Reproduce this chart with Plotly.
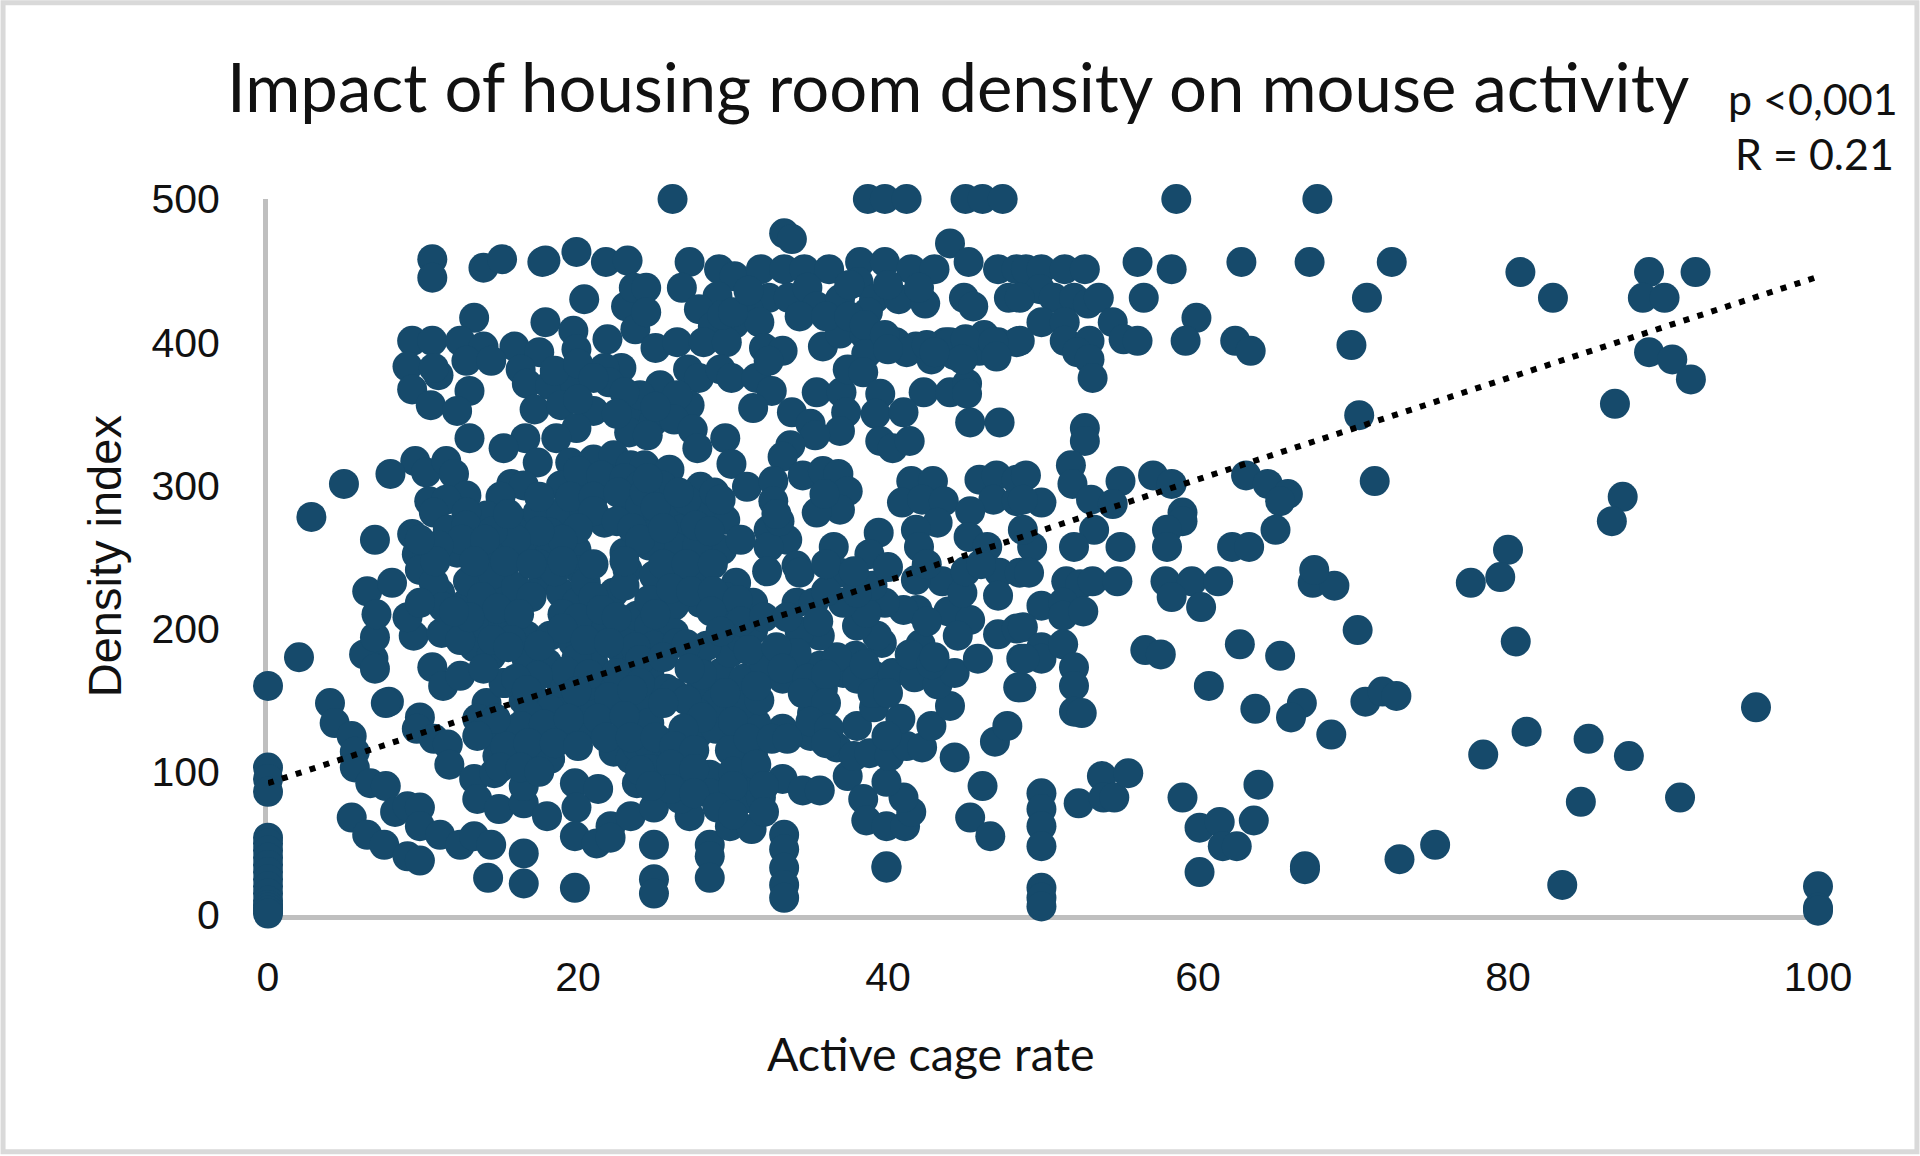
import plotly.graph_objects as go

upper_left = [(10.6,458),(10.6,445),(13.9,452),(15.1,458),(17.9,457),(17.7,456),(19.9,463),(21.8,456),(23.2,457),
(20.4,430),(13.3,417),(17.9,414),(23.1,425),(23.6,438),(23.7,409),(19.7,408),(9.3,401),(10.6,401),(12.4,401),(13.9,397),(15.9,397),(17.5,393),
(9,383),(11,377),(10.7,382),(12.8,387),(14.4,387),(9.3,367),(13,366),(10.5,356),(12.2,352),(13,333),
(19.9,395),(21.9,402),(22.8,382),(21.7,382),(22,372),(16.3,381),(16.7,371),(18.2,370),(19.8,371),(17.2,353),(18.9,356),(21,352),
(19.9,340),(18.6,333),(16.6,333),(15.2,326),(17.4,316),(23.2,351),(23.3,337),
(9.5,317),(10.2,309),(11.5,317),(12,308),(7.9,308),(4.9,301),(2.8,278),(6.9,262),
(19.5,316),(21,318),(22.3,321),(23.4,314),(15.7,301),(16.5,300),(15,292),(18.9,300),(20.4,300),(22.1,304),
(10.4,289),(12.8,293),(11.5,290),(10.7,281),(14.1,279),(12.8,281),(16.1,274),(17.4,281),(18.9,281),(20.4,283),(21.7,274),(23.2,286),
(9.3,266),(11.6,269),(12.8,272),(9.6,252),(12.2,253),(14.6,254),(16.7,255),(18.2,267),(19.9,255),(23,253),(18.2,253)]

upper_mid = [(26.1,500),(38.7,500),(39.8,500),(41.2,500),(45,500),(46.1,500),(47.4,500),(33.3,476),(33.8,472),(44,469),
(27.2,456),(29.1,451),(30.1,446),(31.8,451),(33.3,451),(34.6,451),(36.2,451),(38.2,456),(39.8,456),(41.5,451),(43,451),(45.2,456),(47.1,451),(48.3,451),
(24.4,438),(26.7,438),(29,432),(27.8,423),(32.3,431),(33.6,431),(34.8,438),(35.4,425),(36.9,430),(38.1,442),(39.1,430),(40.7,430),(42.4,427),(44.9,431),(45.5,425),(47.8,431),(31,423),(34.3,418),(38.7,421),
(24.4,421),(28.7,411),(30.1,413),(31.7,414),
(25,396),(26.4,400),(28.1,400),(29.6,400),(32,396),(33.2,394),(35.8,397),(36.9,406),(38.5,405),(38.6,392),(40.5,400),(41.8,397),(41.2,393),(42.8,388),(43.7,400),(44.3,391),(45.9,394),(46.2,405),(48.3,400),(47.1,400),
(27.1,381),(27.8,375),(25.3,370),(29.2,381),(29.9,375),(31.5,375),(32.3,387),(32.5,366),(35.4,365),(37,365),(37.4,381),(38.4,379),(39.5,364),(42.3,365),(44,365),(45.1,371),(45.1,364),
(31.3,354),(33.8,351),(37.3,351),(39.2,350),(41,351),(45.3,344),(47.2,344),(27.2,356),(26.4,363),(24,363),(24.9,345),(26.2,346),(27.4,339),
(35,343),(36.9,338),(35.3,335),(39.5,331),(40.3,326),(41.4,331),(29.5,333),(27.7,326),(33.7,328),(33.2,320),(34.5,307),(35.8,310),(36.8,308),(37.4,296),(36.9,283),(35.4,281),(35.9,294),
(29.9,315),(30.9,299),(32.6,303),(32.6,289),(41.5,303),(42.9,303),(40.9,288),(42.2,290),(43.6,289),(43.2,274),(45.9,304),(47,307),(46.8,290),(48.3,289),(45.3,282),(48.3,304),
(39.4,267),(36.5,257),(38.8,252),(41.8,269),(42,257),(45.2,264),(46.4,257),
(24.3,314),(25.9,311),(27.9,299),(25.4,300),(26.2,283),(29.5,276),(24.6,274),(26.6,269),(28.1,286),(32.3,269),(33.5,262),(32.3,257),(29.3,255),(26.2,257),(27.7,258),(24.6,258)]

upper_right = [(58.6,500),(67.7,500),(56.1,456),(58.3,451),(62.8,456),(67.2,456),(72.5,456),(80.8,449),(82.9,431),(89.1,449),(92.1,449),(88.7,431),(90.1,431),
(56.5,431),(70.9,431),(59.9,417),(59.2,401),(62.4,401),(63.4,394),(69.9,398),(70.4,349),(71.4,303),(89.1,393),(90.6,388),(91.8,374),(86.9,357),(87.4,292),(86.7,275),
(48.9,451),(49.9,451),(51.4,451),(52.7,451),(49.8,437),(50.7,431),(52,431),(52.9,427),(53.6,431),(48.5,431),
(49.9,414),(51.4,414),(54.5,414),(51.4,401),(53,401),(55.2,402),(56.1,401),(48.5,401),(52.2,393),(53,388),(53.2,375),
(52.7,340),(52.7,331),(51.8,314),(51.9,301),(53.1,290),(55,303),(54.5,287),(57.1,307),(58.3,301),(63.1,307),(64.5,301),(65.8,294),(65.3,289),
(48.9,307),(49.9,288),(48.7,290),(59,281),(59,275),(58,269),(58,257),(53.3,269),(65,269),(49.3,257),(52,257),(55,257),(62.2,257),(63.3,257),(48.7,269),
(80,255),(79.5,236),(77.6,232)]

lower_left = [(2,180),(0,160),(4,148),(4.3,134),(5.4,125),(5.6,114),(5.6,103),(6.6,92),(7.6,90),(8.2,72),(9,76),(9.8,75),(9.8,62),(11.1,56),(12.4,49),(13.3,55),(14.4,49),
(5.4,68),(6.4,56),(7.5,49),(9,41),(9.8,38),(14.2,26),(16.5,43),(16.5,22),(19.8,19),(0,103),(0,95),(0,86),
(0,54),(0,50),(0,45),(0,40),(0,35),(0,30),(0,25),(0,20),(0,15),(0,10),(0,7),(0,5),(0,3),(0,1),
(6.8,179),(6.2,182),(6.9,194),(6.4,226),(8,232),(7,210),(6.9,172),(7.8,149),(7.6,148),
(9.8,138),(9.6,130),(10.7,123),(11.6,119),(11.7,105),(10.6,173),(11.3,160),(12.4,167),(9.4,195),(9,208),(11.2,197),(13.3,187),
(15.3,162),(13.3,95),(14.6,99),(13.5,81),(14.9,74),(16.5,78),(18,69),(16.5,90),(19.8,92),(21.3,88),(19.9,75),(19.8,55),(21.2,50),(22.1,62),(22.1,54),(23.4,69),(22.3,114),(23.8,92),
(9.8,241),(11.1,225),(12.8,218),(14.6,227),(15.9,218),(13.7,241),(15.2,241),(17.8,234),(18.9,225),(20.1,241),(22.3,225),(23.2,241),(19.9,218),
(13.7,204),(15.2,204),(16.7,195),(18.2,195),(21,202),(22.9,195),(23.8,209),(19.7,190),(14.4,181),(16.7,178),(21,176),(18,176),(22.9,183),(19.9,179),(12.4,192),
(14.1,148),(13.5,137),(16.5,150),(15.2,162),(17.6,148),(19.3,146),(20.8,144),(22.5,146),(23.8,151),(18.9,162),(20.6,160),(22.1,160),
(14.1,130),(15.9,125),(17.4,122),(19.1,127),(20.8,130),(23.8,132),(14.8,111),(16.5,111),(18.2,109),(23.4,109),(23.8,118),(18,136)]

lower_mid = [(24.9,49),(24.9,25),(24.9,15),(28.5,49),(28.5,41),(28.5,26),(33.3,56),(33.3,46),(33.3,33),(33.3,21),(33.3,12),(39.9,33),(39.9,34),(29.8,62),(31.2,60),(27.2,69),(24.9,75),
(26.8,95),(28.5,98),(28.5,85),(30.7,81),(31.8,82),(31.1,97),(33.2,95),(34.5,87),(35.6,87),(26.6,81),
(37.4,97),(38.4,81),(38.6,66),(39.9,62),(41.1,62),(41.5,72),(41,82),(39.9,93),(44.3,110),(46.1,90),(45.3,68),(46.6,55),(46.9,121),(47.7,132),
(36.7,117),(37.8,111),(38.8,113),(40.1,111),(41.2,118),(42.2,117),(42.8,132),(38,132),(39.1,145),(40.8,137),(39.9,125),(44,146),
(35,125),(35.1,141),(33.2,130),(33.2,165),(35.8,158),(31.5,134),(29.8,125),(31.3,111),(27.7,126),(28.9,130),(27.9,158),(28.9,148),(30.5,146),(31.7,150),(29.2,169),(30.7,165),(27.7,181),(29.8,183),(32,176),(33.9,179),(35.6,174),(37.1,169),(39.1,167),(40.3,169),(41.7,166),(43.2,161),(44.3,169),(45.8,179),
(42.1,189),(41.4,182),(39.6,190),(39.3,195),(38,202),(37.9,181),(36.7,180),(35.6,195),(34.3,198),(34.1,183),
(43.5,233),(43.9,212),(45.3,206),(41.9,213),(41,213),(39.8,218),(38.6,211),(37.1,218),(41.8,234),(36.9,239),(34.1,244),(32.2,240),(47.2,239),(47.1,223),(47.1,196),(48.4,159),(48.6,179),(48.3,200),(48.5,239),
(24.9,237),(26.4,234),(28.1,237),(30.2,232),(31.3,218),(29.8,209),(27.9,218),(26.2,216),(24.6,220),(24.6,202),(26.2,197),(28.3,188),(24.9,188),(26.4,190),(30.5,193),(31.3,199),(34.1,218),(35.2,218),(34.3,239),
(24.6,169),(24.6,151),(24.6,134),(24.6,118),(24.6,102),(25.7,158),(25.7,120),(26.2,155),(27.7,141)]

lower_right = [(56.6,185),(57.6,182),(62.7,189),(65.3,181),(70.3,199),(60.7,160),(63.7,144),(66.7,148),(66,138),(68.6,126),(70.8,149),(71.9,156),(72.8,153),
(49.1,239),(51.5,233),(52.4,231),(53.2,233),(54.8,233),(57.9,233),(59.6,233),(61.3,233),(58.3,222),(60.2,215),(67.4,232),(68.8,230),(67.5,241),
(49.9,216),(51.3,218),(51.3,209),(52.6,212),(48.7,201),(49.9,187),(49.9,179),(51.3,189),(52,173),(52,160),(52,142),(52.5,141),(48.6,159),(48.8,179),
(49.9,85),(49.9,74),(49.9,62),(49.9,48),(49.9,19),(49.9,12),(49.9,6),(52.3,78),(53.8,97),(53.9,82),(54.6,82),(55.5,99),(59,82),
(60.1,61),(61.4,65),(61.6,48),(62.5,48),(60.1,30),(63.9,91),(63.6,66),(66.9,34),(66.9,32),(73,39),(75.3,49),(83.5,21),(100,20),(100,5),(100,3),
(96,145),(78.4,112),(81.2,128),(85.2,123),(87.8,111),(84.7,79),(91.1,82),(80.5,191)]

core_low = [(10.7,232),(12.9,233),(14.5,238),(17.5,245),(18.5,240),(20.5,232),(21,222),(23,230),(16,229),(17,222),(13.8,222),(11.3,215),(9.8,218),(14.8,214),(16.2,210),(19,210),(20,207),(21.5,213),(22.5,208),(13,208),(12,212),(19,200),(15.7,192),(17.5,188),(14.5,192),(13.9,172),(15.5,187),(20.5,192),(23.7,187),(23.3,170),(22,190),(24,178),(19.2,170),(17.4,167),(16,165),(20.7,168),(22.5,169),(24,162),(16.7,157),(18.2,143),(19.9,156),(22,152),(23.5,157),(16.8,140),(16.3,132),(17.8,133),(19.4,137),(21.3,137),(23,139),(15.3,118),(16.8,120),(18.5,120),(20,118),(21.8,124),(23.4,124),(14.7,137),(13.5,125),(15,103),(16.3,103),(17.5,100),(24,101),
(25.5,245),(27,245),(28.7,245),(29.5,222),(26,228),(27.3,226),(28.7,226),(30.3,220),(25,210),(28.6,212),(30.5,205),(32,208),(33.5,208),(25.5,180),(27,189),(29.2,198),(31,185),(32.8,187),(33.2,172),(31.5,160),(29.5,155),(27,150),(25.5,148),(28,168),(27.2,172),(34.8,165),(36,168),(38,165),(34.5,155),(36,148),(35,135),(36.2,130),(36,120),(30,135),(28,138),(26.8,130),(25,124),(26.2,118),(27.5,115),(29.8,115),(31,123),(32.5,123),(33.5,123),(26,105),(27.5,102),(30,100),(31.5,105),(30,90),(32,90),(26,88),(27.5,85),(24.7,90),(29,75),(30,70),(32,72),
(39,155),(40,155),(38.5,175),(42.8,175),(43,180),(42.5,205),(44.5,195),(44.8,225),(45,240),(39,230),(38,225),(36,226),(35.5,205),(36,245),(37.8,240),(40,243),(42.5,245),(46,245)]

core_high = [(20,310),(21.5,307),(23,305),(24,300),(19.5,292),(21,292),(22.6,295),(24,285),(21,282),(22.5,275),(23.5,270),(24,262),(20,270),(19,262),(17.5,268),(16,262),(14.5,268),(15.5,280),(17.5,292),(12.5,262),(14,262),(11,258),(13.3,247),(15.3,247),(17,245),(19,247),(21,245),(23,247),(10.8,247),(9.8,262),
(18.5,380),(20,385),(21,375),(23,365),(22.5,350),(20,360),(24.5,335),(25,355),
(37.5,440),(40,440),(42,438),(29.3,419),(30,421),(31,436),(36,418),(37.5,418),(38.5,412),(39.8,405),(40,395),(42.5,398),(44,400),(45,402),(46.8,400),(47,390),(44.8,388),(43,393),
(24.3,295),(25,285),(27,290),(28.8,295),(24.5,305),(26.5,295),(25.5,270),(27.6,272),(28.5,268),(30.5,262),(33,275),(32.8,280),(29.2,290)]

trend_x = [0, 99.8]
trend_y = [92, 445]

x_ticks = [0, 20, 40, 60, 80, 100]
y_ticks = [0, 100, 200, 300, 400, 500]

TITLE = "Impact of housing room density on mouse activity"
X_TITLE = "Active cage rate"
Y_TITLE = "Density index"
NOTE_P = "p &lt;0,001"
NOTE_R = "R = 0.21"

points = upper_left + upper_mid + upper_right + lower_left + lower_mid + lower_right + core_low + core_high
active_rate = [p[0] for p in points]
density_index = [p[1] for p in points]

W, H = 1920, 1156
L, R, T, B = 267.6, 1818.5, 199.0, 915.5
NAVY = "#164a6b"
GREY = "#bfbfbf"
INK = "#111111"

def fx(px):
    return (px - L) / (R - L)

def fy(py):
    return (B - py) / (B - T)

def note(text, px, py, font, size, angle=0):
    return dict(text=text, x=fx(px), y=fy(py), xref="paper", yref="paper", showarrow=False,
                xanchor="center", yanchor="middle", textangle=angle,
                font=dict(family=font, size=size, color=INK))

fig = go.Figure()
fig.add_trace(go.Scatter(x=active_rate, y=density_index, mode="markers", cliponaxis=False,
                         marker=dict(size=30, color=NAVY, line=dict(width=0)), showlegend=False))
fig.add_trace(go.Scatter(x=trend_x, y=trend_y, mode="lines", cliponaxis=False,
                         line=dict(color="#000000", width=6, dash="6px,8.6px"), showlegend=False))

axis = dict(showgrid=False, zeroline=False, showline=True, linecolor=GREY, linewidth=5, layer="below traces",
            ticks="outside", tickcolor="rgba(0,0,0,0)", tickfont=dict(family="Liberation Sans", size=41, color=INK))
fig.update_xaxes(range=[0, 100], tickvals=x_ticks, ticklen=22, **axis)
fig.update_yaxes(range=[0, 500], tickvals=y_ticks, ticklen=35, **axis)

fig.update_layout(
    width=W, height=H, autosize=False,
    margin=dict(l=L, r=W - R, t=T, b=H - B, pad=0),
    paper_bgcolor="white", plot_bgcolor="white",
    shapes=[dict(type="rect", xref="paper", yref="paper", x0=fx(2.5), x1=fx(W - 2.5), y0=fy(H - 3.5), y1=fy(2.5),
                 line=dict(color="#d9d9d9", width=5), fillcolor="rgba(0,0,0,0)", layer="below")],
    annotations=[
        note(TITLE, 958, 86, "Lato", 67),
        note(X_TITLE, 931, 1054, "Lato", 46.5),
        note(Y_TITLE, 104, 556, "Liberation Sans", 47, -90),
        note(NOTE_P, 1813, 98, "Lato", 43),
        note(NOTE_R, 1815, 153, "Lato", 43),
    ],
)
fig.write_html("out.html", config={"displayModeBar": False},
               post_script="document.body.style.margin='0';document.body.style.overflow='hidden';")
